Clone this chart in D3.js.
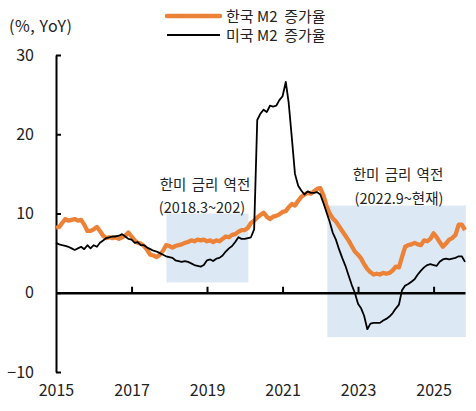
<!DOCTYPE html>
<html>
    <head>
        <meta charset="utf-8">
        <title>한미 M2 증가율</title>
        <script type="text/javascript" src="https://cdn.jsdelivr.net/npm/d3@7"></script>
        <style>
            body { margin: 0; background: #fff; }
            text { font-family: "Noto Sans CJK KR", "Noto Sans", sans-serif; }
        </style>
    </head>
    <body>
        <script type="text/javascript">
            // monthly YoY growth, Jan 2015 ~ Nov 2025
            let startYear = 2015;
            let korM2 = [
                8.2, 8.3, 8.8, 9.3, 9.1, 9.2, 9.3, 9.1, 9.2, 8.6, 7.8, 7.8,
                8.0, 8.3, 7.8, 7.2, 6.9, 7.0, 6.9, 7.0, 6.8, 7.0, 7.2, 7.6,
                7.1, 6.6, 6.3, 6.2, 5.9, 5.4, 4.8, 4.7, 4.5, 4.8, 5.3, 6.0,
                5.9, 5.7, 5.9, 6.0, 6.1, 6.3, 6.4, 6.6, 6.5, 6.7, 6.6, 6.7,
                6.5, 6.6, 6.4, 6.6, 6.5, 6.8, 7.1, 7.0, 7.3, 7.4, 7.7, 7.9,
                7.9, 8.2, 8.8, 9.1, 9.5, 9.8, 10.1, 9.6, 9.3, 9.6, 9.7, 9.9,
                10.2, 10.3, 10.8, 11.2, 11.0, 11.6, 12.1, 12.4, 12.6, 12.5, 12.8, 13.1,
                13.2, 12.3, 11.0, 10.0, 9.4, 9.0, 8.4, 7.8, 7.2, 6.6, 5.9, 5.2,
                4.8, 4.3, 3.6, 3.0, 2.6, 2.3, 2.4, 2.3, 2.5, 2.4, 2.5, 2.8,
                3.3, 3.2, 4.5, 5.8, 6.0, 6.1, 6.3, 6.1, 6.0, 6.6, 6.5, 6.8,
                7.5, 7.0, 6.4, 5.8, 6.2, 6.7, 6.9, 7.3, 8.6, 8.6, 7.9
            ];
            let usM2 = [
                6.3, 6.1, 6.0, 5.9, 5.8, 5.6, 5.4, 5.6, 5.8, 5.5, 6.0, 5.6,
                6.0, 5.8, 6.3, 6.6, 6.9, 7.0, 7.1, 7.1, 7.2, 7.4, 7.1, 6.8,
                6.7, 6.3, 6.4, 6.0, 6.0, 5.7, 5.5, 5.3, 5.2, 5.0, 4.8, 4.6,
                4.5, 4.4, 4.1, 4.0, 3.9, 4.0, 3.9, 3.7, 3.5, 3.4, 3.3, 3.5,
                4.1, 4.2, 4.0, 4.3, 4.4, 4.7, 5.2, 5.6, 5.9, 6.4, 7.0, 6.8,
                6.8, 6.9, 7.0, 8.0, 21.8, 22.6, 23.1, 22.8, 23.6, 23.5, 23.6, 24.3,
                24.8, 26.6, 24.0, 19.5, 15.0, 13.5, 12.9, 12.4, 12.8, 12.6, 12.6, 12.7,
                12.4, 11.3, 10.2, 9.0, 7.6, 6.7, 5.5, 4.4, 3.4, 2.2, 1.0, 0.0,
                -1.4, -2.0, -2.9, -4.6, -3.9, -3.8, -3.8, -3.8, -3.5, -3.3, -3.0, -2.6,
                -2.0, -1.5, 0.3, 0.9, 1.1, 1.4, 1.7, 2.3, 2.8, 3.2, 3.5, 3.6,
                3.5, 3.4, 3.9, 4.2, 4.3, 4.2, 4.3, 4.4, 4.6, 4.6, 3.9
            ];
            let yTicks = [-10, 0, 10, 20, 30];
            let xTickYears = [2017, 2019, 2021, 2023, 2025];
            let xLabelYears = [2015, 2017, 2019, 2021, 2023, 2025];
            // rate inversion periods: [start, end, low, high]
            let inversions = [
                { from: new Date(2017, 11, 5), to: new Date(2020, 1, 5), low: 1.3, high: 10,
                  title: '한미 금리 역전', sub: '(2018.3~202)' },
                { from: new Date(2022, 2, 10), to: new Date(2025, 10, 10), low: -5.6, high: 11,
                  title: '한미 금리 역전', sub: '(2022.9~현재)' }
            ];
            let seriesNames = ['한국 M2  증가율', '미국 M2  증가율'];

            let width = 476;
            let height = 411;
            let orange = '#EC8237';

            let months = korM2.map((d, i) => new Date(startYear, i, 1));

            let svg = d3.select('body')
                .append('svg')
                .attr('width', width)
                .attr('height', height);

            let x = d3.scaleTime()
                .domain([months[0], months[months.length - 1]])
                .range([56, 465]);
            let y = d3.scaleLinear()
                .domain([-10, 30])
                .range([372, 55]);

            // shaded boxes
            svg.selectAll('rect.shade')
                .data(inversions)
                .enter()
                .append('rect')
                    .attr('class', 'shade')
                    .attr('x', d => x(d.from))
                    .attr('y', d => y(d.high))
                    .attr('width', d => x(d.to) - x(d.from))
                    .attr('height', d => y(d.low) - y(d.high))
                    .attr('fill', '#DDE8F5');

            // y axis, ticks pointing inward
            let yAxis = svg.append('g')
                .attr('transform', 'translate(56,0)')
                .call(d3.axisLeft(y).tickValues(yTicks).tickSizeInner(-5).tickSizeOuter(0).tickPadding(22));
            yAxis.select('.domain').attr('stroke-width', 2);
            yAxis.selectAll('.tick line').attr('stroke-width', 2);
            yAxis.selectAll('text').attr('font-size', 16).attr('fill', '#222');

            // x axis on zero line, ticks pointing up
            let xAxis = svg.append('g')
                .attr('transform', `translate(0,${y(0)})`)
                .call(d3.axisBottom(x)
                    .tickValues(xTickYears.map(yr => new Date(yr, 0, 1)))
                    .tickSizeInner(-6).tickSizeOuter(0).tickFormat(''));
            xAxis.select('.domain').attr('stroke-width', 2.5);
            xAxis.selectAll('.tick line').attr('stroke-width', 2);

            // year labels at the bottom
            let xLabels = svg.append('g')
                .attr('transform', 'translate(0,385)')
                .call(d3.axisBottom(x)
                    .tickValues(xLabelYears.map(yr => new Date(yr, 0, 1)))
                    .tickSize(0).tickPadding(0).tickFormat(d3.timeFormat('%Y')));
            xLabels.select('.domain').remove();
            xLabels.selectAll('text').attr('font-size', 16).attr('fill', '#222');

            let line = d3.line()
                .x((d, i) => x(months[i]))
                .y(d => y(d));

            svg.append('path')
                .datum(korM2)
                .attr('d', line)
                .attr('fill', 'none')
                .attr('stroke', orange)
                .attr('stroke-width', 4.3)
                .attr('stroke-linejoin', 'round');

            svg.append('path')
                .datum(usM2)
                .attr('d', line)
                .attr('fill', 'none')
                .attr('stroke', '#000')
                .attr('stroke-width', 1.8)
                .attr('stroke-linejoin', 'round');

            // annotations above boxes
            let notes = svg.selectAll('g.note')
                .data(inversions)
                .enter()
                .append('g')
                    .attr('class', 'note')
                    .attr('font-size', 14.5)
                    .attr('fill', '#222')
                    .attr('text-anchor', 'middle');
            notes.append('text')
                .attr('x', (d, i) => i == 0 ? 205 : 398)
                .attr('y', (d, i) => i == 0 ? 190 : 180)
                .attr('word-spacing', 2)
                .text(d => d.title);
            notes.append('text')
                .attr('x', (d, i) => i == 0 ? 202 : 399)
                .attr('y', (d, i) => i == 0 ? 213 : 204)
                .text(d => d.sub);

            // legend
            let legend = svg.selectAll('g.legend')
                .data(seriesNames)
                .enter()
                .append('g')
                    .attr('class', 'legend')
                    .attr('transform', (d, i) => `translate(167,${16 + i * 19})`);
            legend.append('line')
                .attr('x1', 0).attr('x2', 53)
                .attr('stroke', (d, i) => i == 0 ? orange : '#000')
                .attr('stroke-width', (d, i) => i == 0 ? 4.5 : 1.8)
                .attr('stroke-linecap', (d, i) => i == 0 ? 'round' : 'butt');
            legend.append('text')
                .attr('x', 59)
                .attr('y', 5.5)
                .attr('font-size', 15)
                .attr('fill', '#222')
                .attr('xml:space', 'preserve')
                .style('white-space', 'pre')
                .text(d => d);

            svg.append('text')
                .attr('x', 9)
                .attr('y', 32)
                .attr('font-size', 16)
                .attr('letter-spacing', 0.6)
                .attr('fill', '#222')
                .text('(%, YoY)');
        </script>
    </body>
</html>
